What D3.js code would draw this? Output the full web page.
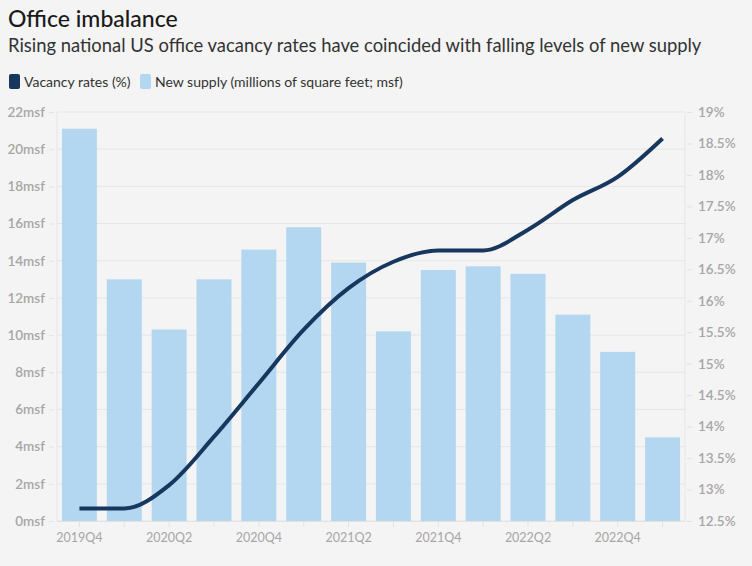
<!DOCTYPE html>
<html><head><meta charset="utf-8">
<script src="https://cdn.jsdelivr.net/npm/d3@7"></script>
<style>
html,body{margin:0;padding:0;background:#f4f4f4;}
svg{display:block;font-family:Lato,"Open Sans",sans-serif;}
</style></head>
<body><svg id="c" width="752" height="566"></svg>
<script>
const quarters = ["2019Q4","2020Q1","2020Q2","2020Q3","2020Q4","2021Q1","2021Q2","2021Q3","2021Q4","2022Q1","2022Q2","2022Q3","2022Q4","2023Q1"];
const supply = [21.1,13.0,10.3,13.0,14.6,15.8,13.9,10.2,13.5,13.7,13.3,11.1,9.1,4.5];
const vacancy = [12.7,12.7,13.07,13.84,14.69,15.54,16.2,16.62,16.8,16.8,17.13,17.6,17.97,18.58];
const leftTicks = [0,2,4,6,8,10,12,14,16,18,20,22];
const rightTicks = [12.5,13,13.5,14,14.5,15,15.5,16,16.5,17,17.5,18,18.5,19];
const xLabels = ["2019Q4","2020Q2","2020Q4","2021Q2","2021Q4","2022Q2","2022Q4"];

const svg = d3.select("#c");
const L = 57, R = 685, T = 112, B = 521;

svg.append("text").attr("x",8).attr("y",27).attr("font-size",23).attr("font-weight",500).attr("fill","#1a1a1a").text("Office imbalance");
svg.append("text").attr("x",8).attr("y",52).attr("font-size",18.4).attr("fill","#333").text("Rising national US office vacancy rates have coincided with falling levels of new supply");

// legend
const lg = svg.append("g");
lg.append("rect").attr("x",9).attr("y",74).attr("width",11).attr("height",15).attr("rx",2).attr("fill","#17375e");
lg.append("text").attr("x",24).attr("y",87).attr("font-size",14).attr("fill","#333").text("Vacancy rates (%)");
lg.append("rect").attr("x",140).attr("y",74).attr("width",11).attr("height",15).attr("rx",2).attr("fill","#b3d7f1");
lg.append("text").attr("x",155).attr("y",87).attr("font-size",14).attr("fill","#333").text("New supply (millions of square feet; msf)");

const x = d3.scaleBand().domain(quarters).range([L,R]).paddingInner(0.22).paddingOuter(0.11);
const yL = d3.scaleLinear().domain([0,22]).range([B,T]);
const yR = d3.scaleLinear().domain([12.5,19]).range([B,T]);

// grid
svg.append("g").selectAll("line").data(leftTicks).join("line")
  .attr("x1",L).attr("x2",R).attr("y1",d=>yL(d)).attr("y2",d=>yL(d))
  .attr("stroke","#e6e6e6").attr("stroke-width",1);
svg.append("line").attr("x1",L).attr("x2",L).attr("y1",T).attr("y2",B).attr("stroke","#e6e6e6");
svg.append("line").attr("x1",R).attr("x2",R).attr("y1",T).attr("y2",B).attr("stroke","#e6e6e6");

// bars
svg.append("g").selectAll("rect").data(quarters).join("rect")
  .attr("x",d=>x(d)).attr("width",x.bandwidth())
  .attr("y",(d,i)=>yL(supply[i])).attr("height",(d,i)=>B-yL(supply[i]))
  .attr("fill","#b3d7f1");

// line
const line = d3.line().x((d,i)=>x(quarters[i])+x.bandwidth()/2).y(d=>yR(d)).curve(d3.curveMonotoneX);
svg.append("path").datum(vacancy).attr("d",line).attr("fill","none").attr("stroke","#17375e").attr("stroke-width",4);

// axes
const axL = d3.axisLeft(yL).tickValues(leftTicks).tickFormat(d=>d+"msf").tickSize(5).tickPadding(4);
const gL = svg.append("g").attr("transform",`translate(${L-3},0)`).call(axL);
const axR = d3.axisRight(yR).tickValues(rightTicks).tickFormat(d=>d+"%").tickSize(5).tickPadding(6);
const gR = svg.append("g").attr("transform",`translate(${R+2},0)`).call(axR);
const axB = d3.axisBottom(x).tickValues(quarters).tickFormat(d=>xLabels.includes(d)?d:"").tickSize(6).tickPadding(6);
const gB = svg.append("g").attr("transform",`translate(0,${B})`).call(axB);
[gL,gR,gB].forEach(g=>{
  g.select(".domain").remove();
  g.selectAll(".tick line").attr("stroke","#e2e2e2");
  g.selectAll("text").attr("font-family","Lato,'Open Sans',sans-serif").attr("fill","#a6a6a6");
});
gL.selectAll("text").attr("font-size",13.5).attr("font-weight",600);
gR.selectAll("text").attr("font-size",13.5).attr("font-weight",600);
gB.selectAll("text").attr("font-size",12.5);
svg.append("line").attr("x1",L).attr("x2",R).attr("y1",B+0.5).attr("y2",B+0.5).attr("stroke","#e2e2e2");
</script></body></html>
